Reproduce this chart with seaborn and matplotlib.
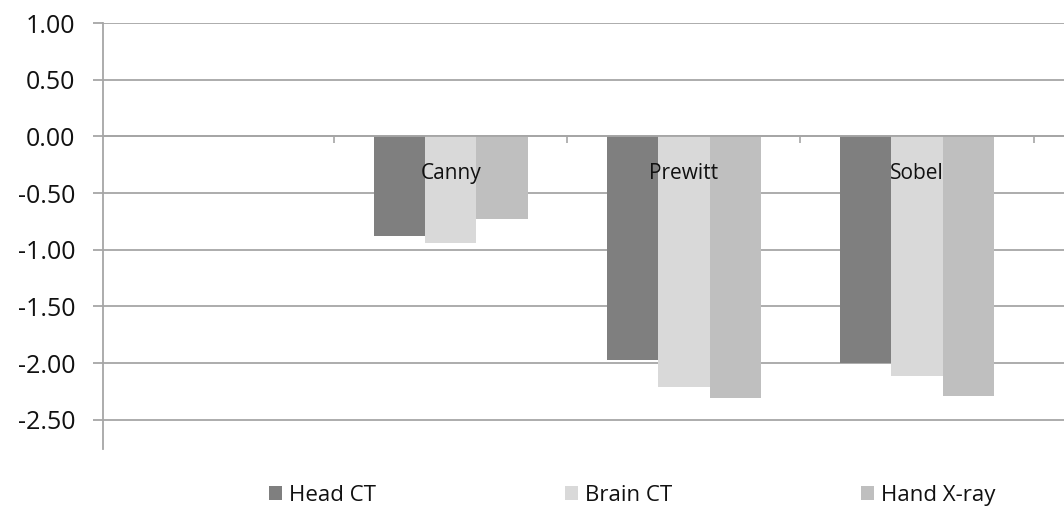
import pandas as pd
import seaborn as sns
import matplotlib.pyplot as plt
from matplotlib.ticker import MultipleLocator, FixedLocator

# data
methods = ["", "Canny", "Prewitt", "Sobel"]
images = ["Head CT", "Brain CT", "Hand X-ray"]
head_ct = [0.0, -0.88, -1.97, -2.00]
brain_ct = [0.0, -0.94, -2.21, -2.11]
hand_xray = [0.0, -0.73, -2.31, -2.29]
colors = ["#7f7f7f", "#d9d9d9", "#bfbfbf"]

rows = []
for img, vals in zip(images, [head_ct, brain_ct, hand_xray]):
    for m, v in zip(methods, vals):
        rows.append({"method": m, "image": img, "value": v})
df = pd.DataFrame(rows)

sns.set_style("white")
plt.rcParams['font.family'] = ['Open Sans', 'DejaVu Sans']

fig = plt.figure(figsize=(10.64, 5.26), dpi=100)
ax = fig.add_axes([0.097, 0.146, 0.903, 0.81])

sns.barplot(data=df, x="method", y="value", hue="image", order=methods,
            hue_order=images, palette=colors, saturation=1, width=0.66,
            linewidth=0, edgecolor="none", ax=ax, zorder=2)

grid_col = "#a6a6a6"
ax.set_ylim(-2.76, 1.0)
ax.set_xlim(-0.49, 3.63)
ax.yaxis.set_major_locator(MultipleLocator(0.5))
ax.yaxis.set_major_formatter(lambda v, p: f"{v:.2f}")
ax.grid(axis="y", color=grid_col, linewidth=1.3, zorder=0)
ax.set_axisbelow(True)

for s in ["top", "right"]:
    ax.spines[s].set_visible(False)
ax.spines["left"].set_color(grid_col)
ax.spines["left"].set_linewidth(1.3)
ax.spines["bottom"].set_position(("data", 0))
ax.spines["bottom"].set_color(grid_col)
ax.spines["bottom"].set_linewidth(1.3)

ax.tick_params(axis="y", direction="out", length=7, width=1.3, color=grid_col,
               pad=13, labelsize=18, labelcolor="#111111", left=True)
ax.xaxis.set_minor_locator(FixedLocator([0.5, 1.5, 2.5, 3.5]))
ax.tick_params(axis="x", which="minor", direction="out", length=5,
               width=1.2, color=grid_col, bottom=True)
ax.tick_params(axis="x", which="major", length=0, pad=19, labelsize=15,
               labelcolor="#111111")
ax.xaxis.set_zorder(3)
ax.set_xlabel("")
ax.set_ylabel("")

handles, labels = ax.get_legend_handles_labels()
ax.get_legend().remove()
leg = fig.legend(handles, labels, loc="center", bbox_to_anchor=(0.594, 0.058),
                 ncol=3, frameon=False, fontsize=16, handlelength=0.6,
                 handleheight=0.6, handletextpad=0.3, columnspacing=8.5)
for t in leg.get_texts():
    t.set_color("#111111")

fig.savefig("out.png", dpi=100)
